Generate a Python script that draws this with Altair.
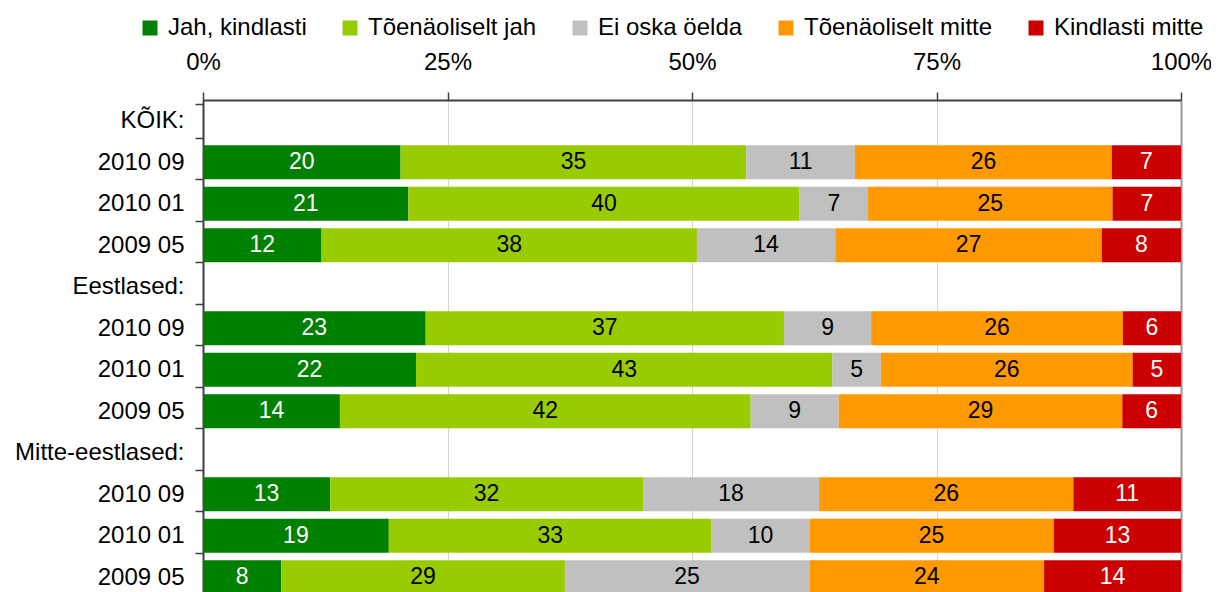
import altair as alt
import pandas as pd

categories = ["Jah, kindlasti", "Tõenäoliselt jah", "Ei oska öelda", "Tõenäoliselt mitte", "Kindlasti mitte"]
colors = ["#008000", "#99CC00", "#C0C0C0", "#FF9900", "#CC0000"]
text_colors = ["white", "black", "black", "black", "white"]

row_labels = ["KÕIK:", "2010 09", "2010 01", "2009 05",
              "Eestlased:", "2010 09", "2010 01", "2009 05",
              "Mitte-eestlased:", "2010 09", "2010 01", "2009 05"]
data_rows = [1, 2, 3, 5, 6, 7, 9, 10, 11]

jah_kindlasti = [20, 21, 12, 23, 22, 14, 13, 19, 8]
toenaoliselt_jah = [35, 40, 38, 37, 43, 42, 32, 33, 29]
ei_oska_oelda = [11, 7, 14, 9, 5, 9, 18, 10, 25]
toenaoliselt_mitte = [26, 25, 27, 26, 26, 29, 26, 25, 24]
kindlasti_mitte = [7, 7, 8, 6, 5, 6, 11, 13, 14]

series = [jah_kindlasti, toenaoliselt_jah, ei_oska_oelda, toenaoliselt_mitte, kindlasti_mitte]

records = []
for ci, (cat, vals) in enumerate(zip(categories, series)):
    for r, v in zip(data_rows, vals):
        records.append({"row": r, "cat": cat, "order": ci, "value": v, "tcolor": text_colors[ci]})
df = pd.DataFrame(records)

FONT = "Liberation Sans"
label_expr = "[" + ",".join("'" + s + "'" for s in row_labels) + "][datum.value]"

y_enc = alt.Y(
    "row:O",
    scale=alt.Scale(domain=list(range(len(row_labels))), paddingInner=0.18, paddingOuter=0.09),
    axis=alt.Axis(
        title=None, labelExpr=label_expr, labelFontSize=24, labelFont=FONT, labelColor="black",
        tickBand="extent", tickSize=8, tickColor="#404040", tickWidth=1.5,
        domainColor="#404040", domainWidth=2, labelPadding=11, grid=False,
    ),
)

x_scale = alt.Scale(domain=[0, 1], nice=False)
x_axis = alt.Axis(
    orient="top", title=None, values=[0, 0.25, 0.5, 0.75, 1], format=".0%",
    labelFontSize=24, labelFont=FONT, labelColor="black", labelPadding=18, labelFlush=False,
    tickSize=8, tickColor="#404040", tickWidth=1.5,
    domainColor="#404040", domainWidth=2,
    grid=True,
    gridColor={"condition": {"test": "datum.value == 1", "value": "#999999"}, "value": "#d4d4d4"},
    gridWidth={"condition": {"test": "datum.value == 1", "value": 2}, "value": 1},
)

base = alt.Chart(df).transform_joinaggregate(
    total="sum(value)", groupby=["row"]
).transform_window(
    cum="sum(value)", sort=[alt.SortField("order")], groupby=["row"], frame=[None, 0]
).transform_calculate(
    mid="(datum.cum - datum.value / 2) / datum.total"
)

bars = base.mark_bar().encode(
    x=alt.X("value:Q", stack="normalize", scale=x_scale, axis=x_axis),
    y=y_enc,
    color=alt.Color(
        "cat:N",
        scale=alt.Scale(domain=categories, range=colors),
        legend=alt.Legend(
            title=None, orient="none", direction="horizontal", legendX=-65, legendY=-84,
            symbolType="square", symbolSize=225, symbolStrokeWidth=0, symbolOpacity=1,
            labelFontSize=24, labelFont=FONT, labelColor="black", labelOffset=6,
            labelLimit=400, columnPadding=31, padding=0,
        ),
    ),
    order=alt.Order("order:Q"),
)

texts = base.mark_text(fontSize=23, font=FONT, baseline="middle", align="center").encode(
    x=alt.X("mid:Q", scale=x_scale, axis=x_axis),
    y=y_enc,
    text=alt.Text("value:Q"),
    fill=alt.Fill("tcolor:N", scale=None),
)

chart = alt.layer(bars, texts).properties(
    width=978, height=498,
    autosize="none",
    padding={"left": 195, "top": 92, "right": 30, "bottom": 0},
).configure_view(strokeWidth=0).configure(font=FONT)

chart.save("out.html", embed_options={"renderer": "svg", "actions": False})
